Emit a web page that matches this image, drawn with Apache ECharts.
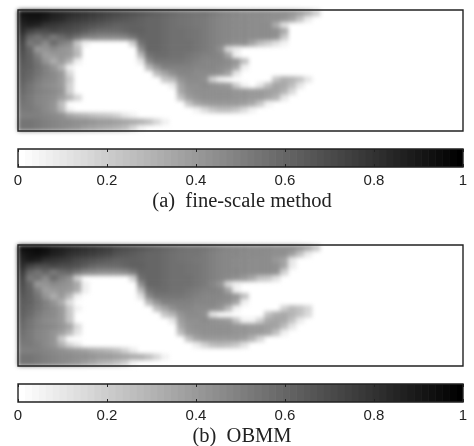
<!DOCTYPE html>
<html><head><meta charset="utf-8">
<style>
html,body{margin:0;padding:0;background:#fff;width:474px;height:446px;overflow:hidden}
#heat,#over{position:absolute;left:0;top:0;width:474px;height:446px}
#heat{filter:blur(1.9px)}
</style>
<script src="https://cdn.jsdelivr.net/npm/echarts@6/dist/echarts.min.js"></script>
</head><body><div id="heat"></div><div id="over"></div>
<script>
// saturation, percent; columns are 1/56 of the width, rows 1/20 of the height; missing = 0
const fieldA = [
[93,94,94,92,88,86,84,82,80,78,76,74,72,70,68,66,64,62,60,58,56,55,54,54,52,50,48,47,46,46,46,45,44,44,42,38,32,20],
[90,92,92,90,86,84,80,78,76,74,72,70,68,66,64,62,60,60,58,56,55,54,53,52,50,48,47,46,46,45,45,44,44,42,36,24,8],
[86,88,86,80,78,76,74,72,70,68,66,64,62,62,62,61,60,60,58,56,55,54,53,52,50,48,47,46,46,45,45,45,32,12],
[82,74,70,70,72,70,70,68,64,60,58,58,58,60,62,62,60,60,58,56,56,55,54,52,50,48,47,46,46,45,45,45,44,34],
[76,60,55,60,52,58,62,56,50,48,46,46,46,48,54,60,60,60,58,56,56,55,54,52,50,48,47,46,46,45,45,45,43,22],
[72,52,55,46,58,50,46,22,6,0,0,0,0,0,20,54,60,60,58,56,56,56,54,52,50,48,46,44,44,36,26,20,12,5],
[70,60,40,42,46,42,40,26,0,0,0,0,0,0,0,44,60,60,58,56,56,56,54,52,50,44,15,8],
[68,62,50,38,40,42,40,28,0,0,0,0,0,0,0,28,55,58,58,56,56,54,52,50,50,48,36,5],
[66,62,54,42,32,40,30,6,0,0,0,0,0,0,0,10,46,54,54,54,54,52,50,48,48,48,46,42,26],
[64,62,56,50,42,30,6,0,0,0,0,0,0,0,0,0,28,42,50,50,50,50,48,48,48,46,44,36,6],
[63,60,55,50,46,40,15,0,0,0,0,0,0,0,0,0,0,26,36,44,48,48,46,46,46,44,36,10],
[62,58,52,48,46,40,22,0,0,0,0,0,0,0,0,0,0,0,22,28,42,46,46,44,18,5,0,0,0,0,0,0,24,32,30,24,10],
[60,55,50,46,44,40,18,0,0,0,0,0,0,0,0,0,0,0,0,8,36,44,44,46,44,42,40,20,5,0,10,26,36,34,26,10],
[58,54,50,48,46,42,18,0,0,0,0,0,0,0,0,0,0,0,0,0,34,42,44,44,44,44,44,42,42,40,40,38,36,30,14],
[56,52,48,46,44,38,30,16,0,0,0,0,0,0,0,0,0,0,0,0,24,38,42,44,44,44,44,42,42,40,40,36,30,10],
[54,52,48,46,42,25,0,0,0,0,0,0,0,0,0,0,0,0,0,0,0,22,34,38,40,40,40,40,38,34,22,5],
[52,52,50,46,42,28,5,0,0,0,0,0,0,0,0,0,0,0,0,0,0,0,5,14,22,26,26,22,14,5],
[50,50,50,48,46,44,36,32,30,26,24,22,18,10,5],
[54,54,52,50,48,46,46,44,44,42,40,40,38,36,34,32,26,16,6],
[54,54,52,50,48,46,44,42,38,36,34,32,30,26,16,5]
];
const fieldB = [
[94,95,96,94,90,88,86,84,82,80,78,76,72,70,68,66,64,62,60,58,56,55,55,54,52,50,48,47,47,46,46,46,44,44,44,40,34,22],
[90,93,94,92,88,86,82,80,78,76,74,72,68,66,64,62,60,60,58,56,55,54,54,52,50,48,47,47,46,46,46,45,44,44,38,24,8],
[86,90,88,82,80,78,76,72,70,68,66,64,62,62,62,61,60,60,58,56,55,54,53,52,50,48,47,46,46,45,45,45,40,36,10],
[82,74,70,70,72,70,70,68,64,60,58,58,58,60,62,62,60,60,58,56,56,55,54,52,50,48,47,46,46,45,45,45,44,36,8],
[76,60,55,60,52,58,60,54,48,46,44,44,44,46,52,60,60,60,58,56,56,55,54,52,50,48,47,47,46,45,45,45,43,18],
[72,52,55,46,58,50,44,18,0,0,0,0,0,0,18,56,60,60,58,56,56,56,54,52,50,48,46,44,40,34,24,22,12],
[70,60,40,42,46,44,42,34,6,0,0,0,0,0,0,44,60,60,58,56,56,56,54,52,48,42,15,6],
[68,62,50,38,40,42,40,32,6,0,0,0,0,0,0,28,55,58,58,56,56,54,52,50,50,48,36,5],
[66,62,54,42,32,40,28,5,0,0,0,0,0,0,0,12,46,54,54,54,54,52,50,48,48,48,46,42,26],
[64,62,56,50,42,32,12,0,0,0,0,0,0,0,0,0,28,42,50,50,50,50,48,48,48,46,44,36,6],
[63,60,55,50,46,40,22,5,0,0,0,0,0,0,0,0,0,26,36,44,48,48,46,46,46,42,28,5,0,0,0,0,0,18,28,24,16],
[62,58,52,48,46,40,22,0,0,0,0,0,0,0,0,0,0,0,22,30,42,46,46,44,10,0,0,0,0,0,0,24,32,34,30,24,14],
[60,55,50,46,44,40,22,0,0,0,0,0,0,0,0,0,0,0,0,10,38,44,44,46,44,42,40,24,5,5,18,34,36,34,24,8],
[58,54,50,48,46,42,36,14,0,0,0,0,0,0,0,0,0,0,0,0,34,42,44,44,44,44,44,42,42,40,40,38,36,26,10],
[56,52,48,46,42,38,28,10,0,0,0,0,0,0,0,0,0,0,0,0,26,40,42,44,44,44,44,42,42,40,40,36,24,6],
[54,52,48,46,42,20,0,0,0,0,0,0,0,0,0,0,0,0,0,0,0,24,36,40,40,40,40,40,38,30,16],
[52,52,50,46,42,30,16,8,0,0,0,0,0,0,0,0,0,0,0,0,0,0,8,18,26,28,26,22,12],
[50,50,50,48,46,44,42,40,38,34,32,30,26,18,8],
[54,54,52,50,48,46,46,44,44,42,40,40,38,36,34,32,26,16,5],
[54,54,52,50,48,46,44,42,38,34,30,28,24,18,5]
];
const columns = 56;
const rows = 20;
const colorbarLevels = 64;
const tickLabels = ['0','0.2','0.4','0.6','0.8','1'];
const captions = ['(a)\u00a0\u00a0fine-scale method','(b)\u00a0\u00a0OBMM'];
const plotTops = [10,245];
const barTops = [149,384];

const cols = Array.from({length:columns},(_,i)=>i);
const rws = Array.from({length:rows},(_,i)=>i);
const cells = f => { const d=[]; f.forEach((row,r)=>row.forEach((v,c)=>{ if(v>0) d.push([c,r,v/100]); })); return d; };

const heat = echarts.init(document.getElementById('heat'),null,{renderer:'canvas'});
heat.setOption({
  animation:false,
  grid:plotTops.map(t=>({left:18,top:t,width:445,height:121})),
  xAxis:[0,1].map(i=>({type:'category',gridIndex:i,data:cols,show:false})),
  yAxis:[0,1].map(i=>({type:'category',gridIndex:i,data:rws,inverse:true,show:false})),
  visualMap:{show:false,min:0,max:1,seriesIndex:[0,1],inRange:{color:['#ffffff','#000000']}},
  series:[fieldA,fieldB].map((f,i)=>({type:'heatmap',xAxisIndex:i,yAxisIndex:i,data:cells(f),progressive:0,emphasis:{disabled:true}}))
});

const over = echarts.init(document.getElementById('over'),null,{renderer:'canvas'});
const levels = Array.from({length:colorbarLevels},(_,i)=>i);
const tickFmt = v => tickLabels[Math.round(v*5)];
const barAxis = (i,pos) => ({type:'value',gridIndex:i,min:0,max:1,interval:0.2,position:pos,z:6,
  splitLine:{show:false},axisLine:{show:false},
  axisTick:{show:true,inside:true,length:3,lineStyle:{color:'#222',width:1}},
  axisLabel:{show:pos==='bottom',margin:6,color:'#222',fontSize:15,fontFamily:'"Liberation Sans",Arial,sans-serif',formatter:tickFmt,hideOverlap:false,showMinLabel:true,showMaxLabel:true}});
const frame = t => ({left:18,top:t,width:445,show:true,backgroundColor:'transparent',borderColor:'#222',borderWidth:1.4});
over.setOption({
  animation:false,
  grid:[...plotTops.map(t=>({...frame(t),height:121})),...barTops.map(t=>({...frame(t),height:18,z:5}))],
  xAxis:[
    {type:'value',gridIndex:0,min:0,max:1,show:false},{type:'value',gridIndex:1,min:0,max:1,show:false},
    barAxis(2,'bottom'),barAxis(3,'bottom'),barAxis(2,'top'),barAxis(3,'top')],
  yAxis:[0,1,2,3].map(i=>({type:'value',gridIndex:i,min:0,max:1,show:false})),
  title:captions.map((c,i)=>({text:c,left:242,textAlign:'center',top:[191,426][i],padding:0,itemGap:0,
    textStyle:{fontFamily:'"Liberation Serif","Times New Roman",serif',fontWeight:'normal',fontSize:20.5,color:'#222'}})),
  series:[2,3].map(g=>({type:'custom',xAxisIndex:g,yAxisIndex:g,clip:true,z:1,silent:true,
    data:levels,
    renderItem:(p,api)=>{
      const k=api.value(0);
      const a=api.coord([k/colorbarLevels,1]), b=api.coord([(k+1)/colorbarLevels,0]);
      const g8=Math.round(255*(1-k/(colorbarLevels-1)));
      return {type:'rect',shape:{x:a[0],y:a[1],width:b[0]-a[0]+0.6,height:b[1]-a[1]},style:{fill:`rgb(${g8},${g8},${g8})`}};
    },
    encode:{x:0,y:0}}))
});
</script></body></html>
